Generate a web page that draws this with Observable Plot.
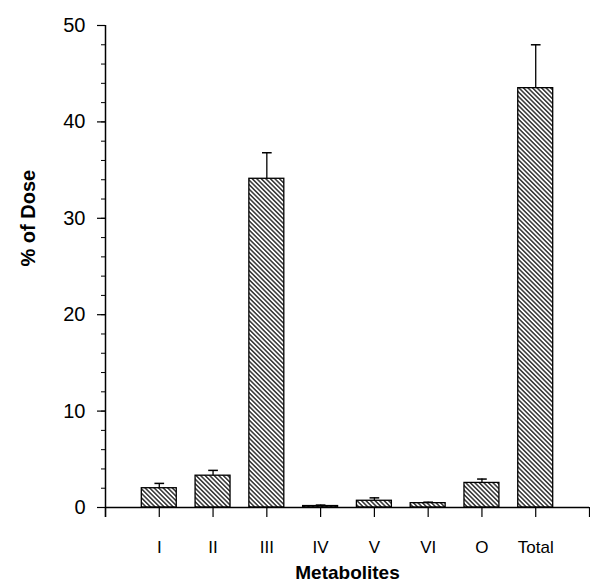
<!DOCTYPE html>
<html><head><meta charset="utf-8">
<script src="https://cdn.jsdelivr.net/npm/d3@7"></script>
<script src="https://cdn.jsdelivr.net/npm/@observablehq/plot@0.6"></script>
<style>body{margin:0;background:#fff}</style>
</head><body><div id="chart"></div>
<script>
const categories = ["I", "II", "III", "IV", "V", "VI", "O", "Total"];
const values = [2.0, 3.3, 34.1, 0.15, 0.7, 0.45, 2.55, 43.5];
const errors = [0.5, 0.55, 2.7, 0.1, 0.3, 0.1, 0.4, 4.5];
const yTicks = [0, 10, 20, 30, 40, 50];
const yMinorTicks = d3.range(0, 51, 2);
const xTicks = d3.range(0, 10);

const data = categories.map((c, i) => ({c, pos: i + 1, v: values[i], e: errors[i]}));
const halfW = 0.325, capW = 0.09;

const chart = Plot.plot({
  width: 590, height: 583,
  marginLeft: 105, marginRight: 1, marginTop: 25, marginBottom: 76,
  style: {fontFamily: "'Liberation Sans', Arial, sans-serif", background: "white", color: "black"},
  x: {domain: [0, 9]},
  y: {domain: [0, 50]},
  marks: [
    Plot.rectY(data, {x1: d => d.pos - halfW, x2: d => d.pos + halfW, y1: 0, y2: "v", fill: "url(#hatch)", stroke: "black", strokeWidth: 1.3}),
    Plot.ruleX(data, {x: "pos", y1: "v", y2: d => d.v + d.e, stroke: "black", strokeWidth: 1.3}),
    Plot.link(data, {x1: d => d.pos - capW, x2: d => d.pos + capW, y1: d => d.v + d.e, y2: d => d.v + d.e, stroke: "black", strokeWidth: 1.5}),
    Plot.ruleY([0], {stroke: "black", strokeWidth: 1.5}),
    Plot.ruleX([0], {y1: -1.05, y2: 50, stroke: "black", strokeWidth: 1.5}),
    Plot.axisY({ticks: yTicks, tickSize: 8, tickPadding: 12, fontSize: 20, label: null, strokeWidth: 1.2}),
    Plot.axisY({ticks: yMinorTicks, tickSize: 4, tickFormat: () => "", label: null, strokeWidth: 1}),
    Plot.axisX({ticks: xTicks, tickSize: 10, tickPadding: 23, tickFormat: i => categories[i - 1] ?? "", fontSize: 17, label: null, strokeWidth: 1.2}),
    Plot.text(["% of Dose"], {frameAnchor: "left", dx: -77, rotate: -90, fontSize: 20, fontWeight: "bold"}),
    Plot.text(["Metabolites"], {frameAnchor: "bottom", dy: 71, fontSize: 19, fontWeight: "bold"})
  ]
});

const defs = d3.create("svg:defs");
const pat = defs.append("pattern").attr("id", "hatch").attr("patternUnits", "userSpaceOnUse")
  .attr("width", 3.2).attr("height", 3.2).attr("patternTransform", "rotate(-45)");
pat.append("rect").attr("width", 3.2).attr("height", 3.2).attr("fill", "white");
pat.append("line").attr("x1", 0.8).attr("y1", 0).attr("x2", 0.8).attr("y2", 3.2).attr("stroke", "black").attr("stroke-width", 1.2);
chart.insertBefore(defs.node(), chart.firstChild);
document.getElementById("chart").append(chart);
</script>
</body></html>
